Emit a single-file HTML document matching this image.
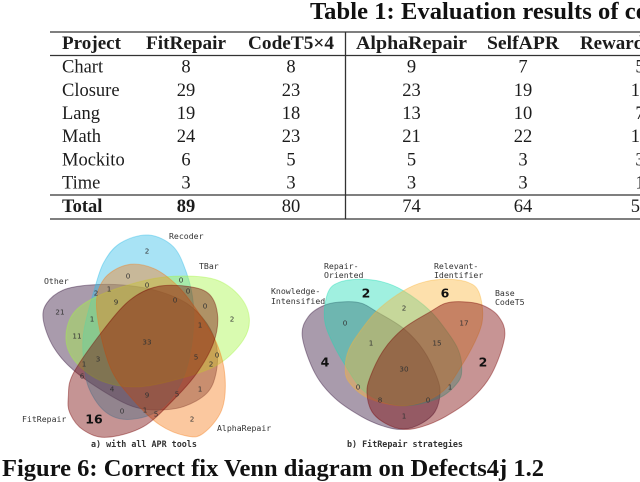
<!DOCTYPE html>
<html lang="en">
<head>
<meta charset="utf-8">
<title>Evaluation results and Venn diagrams</title>
<style>
html,body{margin:0;padding:0;background:#fff;}
body{width:640px;height:482px;overflow:hidden;}
svg{display:block;}
.serif{font-family:"Liberation Serif",serif;fill:#1c1c1c;}
.cell{font-size:18.5px;}
.head{font-size:19px;font-weight:bold;}
.bold{font-weight:bold;}
.big{font-size:24.5px;font-weight:bold;fill:#111;}
.mono{font-family:"DejaVu Sans Mono",monospace;font-size:8.2px;fill:#333;}
.cap{font-family:"DejaVu Sans Mono",monospace;font-size:8.4px;font-weight:bold;fill:#333;}
.num{font-family:"DejaVu Sans",sans-serif;font-size:7.2px;fill:#333;text-anchor:middle;}
.numb{font-family:"DejaVu Sans",sans-serif;font-size:12.5px;font-weight:bold;fill:#111;text-anchor:middle;}
.rule{stroke:#333;stroke-width:1.3;}
</style>
</head>
<body>
<svg id="root" xmlns="http://www.w3.org/2000/svg" width="640" height="482" viewBox="0 0 640 482">
  <text class="serif big" x="310" y="19" textLength="338" lengthAdjust="spacing">Table 1: Evaluation results of co</text>
  <g id="table">
    <line class="rule" x1="50" x2="640" y1="32" y2="32"/>
    <line class="rule" x1="50" x2="640" y1="55.5" y2="55.5"/>
    <line class="rule" x1="50" x2="640" y1="195" y2="195"/>
    <line class="rule" x1="50" x2="640" y1="219" y2="219"/>
    <line class="rule" x1="345.5" x2="345.5" y1="32" y2="219"/>
  </g>
  <g id="vennA"></g>
  <g id="vennB"></g>

  <text class="mono" x="169" y="239">Recoder</text>
  <text class="mono" x="199" y="269">TBar</text>
  <text class="mono" x="44" y="284">Other</text>
  <text class="mono" x="22" y="422">FitRepair</text>
  <text class="mono" x="217" y="431">AlphaRepair</text>
  <text class="cap" x="91" y="447">a) with all APR tools</text>

  <text class="mono" x="324" y="269">Repair-</text>
  <text class="mono" x="324" y="278">Oriented</text>
  <text class="mono" x="271" y="294">Knowledge-</text>
  <text class="mono" x="271" y="304">Intensified</text>
  <text class="mono" x="434" y="269">Relevant-</text>
  <text class="mono" x="434" y="278">Identifier</text>
  <text class="mono" x="495" y="296">Base</text>
  <text class="mono" x="495" y="305">CodeT5</text>
  <text class="cap" x="347" y="447">b) FitRepair strategies</text>

  <text class="serif big" x="2" y="476" textLength="542" lengthAdjust="spacing">Figure 6: Correct fix Venn diagram on Defects4j 1.2</text>
</svg>
<script>
var tableColumns = ["Project", "FitRepair", "CodeT5×4", "AlphaRepair", "SelfAPR", "RewardRepair"];
var tableProjects = ["Chart", "Closure", "Lang", "Math", "Mockito", "Time", "Total"];
var fitRepairFixes = [8, 29, 19, 24, 6, 3, 89];
var codeT5Fixes = [8, 23, 18, 23, 5, 3, 80];
var alphaRepairFixes = [9, 23, 13, 21, 5, 3, 74];
var selfAprFixes = [7, 19, 10, 22, 3, 3, 64];
var rewardRepairFixes = [5, 19, 7, 18, 3, 1, 53];

var toolSetNames = ["Other", "Recoder", "TBar", "AlphaRepair", "FitRepair"];
var toolRegionCounts = [2, 0, 0, 1, 2, 9, 21, 1, 11, 33, 0, 0, 0, 0, 1, 2, 1, 3, 6, 5, 0, 2, 4, 9, 5, 1, 0, 1, 5, 16, 2];
var strategySetNames = ["Knowledge-Intensified", "Repair-Oriented", "Relevant-Identifier", "Base CodeT5"];
var strategyRegionCounts = [2, 0, 1, 4, 6, 2, 17, 15, 2, 30, 0, 8, 0, 1, 1];

var NS = "http://www.w3.org/2000/svg";

function makeText(parent, x, y, str, cls) {
  var t = document.createElementNS(NS, "text");
  t.setAttribute("x", x);
  t.setAttribute("y", y);
  t.setAttribute("class", cls);
  t.textContent = str;
  parent.appendChild(t);
  return t;
}

function drawTable() {
  var g = document.getElementById("table");
  var columnCenters = [0, 186, 291, 411.5, 523, 640];
  var baselines = [72.5, 96, 119, 142, 165.5, 188.5, 212];
  var headerWidths = [59, 80, 86, 111, 72, 120];
  var series = [fitRepairFixes, codeT5Fixes, alphaRepairFixes, selfAprFixes, rewardRepairFixes];
  tableColumns.forEach(function (name, c) {
    var x = c === 0 ? 62 : columnCenters[c] - headerWidths[c] / 2;
    var h = makeText(g, x, 49, name, "serif head");
    h.setAttribute("textLength", headerWidths[c]);
    h.setAttribute("lengthAdjust", "spacingAndGlyphs");
    
    
  });
  tableProjects.forEach(function (project, r) {
    var isTotal = r === tableProjects.length - 1;
    var label = makeText(g, 62, baselines[r], project, isTotal ? "serif cell bold" : "serif cell");
    
    
    series.forEach(function (values, s) {
      var isBest = isTotal && s === 0;
      var v = makeText(g, columnCenters[s + 1], baselines[r], values[r], isBest ? "serif cell bold" : "serif cell");
      v.setAttribute("text-anchor", "middle");
      
      
    });
  });
}

function smoothClosedPath(pts, toX, toY) {
  var n = pts.length;
  var d = "M" + toX(pts[0][0]).toFixed(1) + " " + toY(pts[0][1]).toFixed(1);
  for (var i = 0; i < n; i++) {
    var p0 = pts[(i - 1 + n) % n], p1 = pts[i], p2 = pts[(i + 1) % n], p3 = pts[(i + 2) % n];
    var c1x = p1[0] + (p2[0] - p0[0]) / 6, c1y = p1[1] + (p2[1] - p0[1]) / 6;
    var c2x = p2[0] - (p3[0] - p1[0]) / 6, c2y = p2[1] - (p3[1] - p1[1]) / 6;
    d += "C" + toX(c1x).toFixed(1) + " " + toY(c1y).toFixed(1) + " " +
         toX(c2x).toFixed(1) + " " + toY(c2y).toFixed(1) + " " +
         toX(p2[0]).toFixed(1) + " " + toY(p2[1]).toFixed(1);
  }
  return d + "Z";
}

function drawVenn(groupId, names, counts, outlines, colors, ox, oy, sites, boldIndexes) {
  var g = document.getElementById(groupId);
  var toX = function (v) { return ox + v / 3; };
  var toY = function (v) { return oy + v / 3; };
  names.forEach(function (name, i) {
    var e = document.createElementNS(NS, "path");
    e.setAttribute("d", smoothClosedPath(outlines[i], toX, toY));
    e.setAttribute("fill", "rgba(" + colors[i] + ",.42)");
    e.setAttribute("stroke", "rgba(" + colors[i] + ",.4)");
    e.setAttribute("stroke-width", "1");
    
    
    g.appendChild(e);
  });
  counts.forEach(function (count, i) {
    var site = sites[i];
    var cls = boldIndexes.indexOf(i) >= 0 ? "numb" : "num";
    var dy = cls === "numb" ? 4.6 : 2.6;
    var t = makeText(g, site[0], site[1] + dy, count, cls);
    
    
  });
}

function mirrored(pts) {
  return pts.map(function (p) { return [651 - p[0], p[1]]; }).reverse();
}

drawTable();

drawVenn("vennA", toolSetNames, toolRegionCounts,
  [
    [[10,270],[20,220],[70,180],[150,165],[250,165],[350,182],[440,220],[500,280],[530,350],[528,430],[500,490],[430,530],[350,540],[280,530],[200,490],[100,420],[40,350]],
    [[325,15],[400,50],[440,130],[460,220],[458,320],[435,430],[390,510],[330,555],[250,568],[190,540],[145,470],[130,380],[132,300],[160,190],[190,100],[240,40]],
    [[78,330],[100,250],[180,195],[320,150],[430,138],[530,150],[600,200],[628,265],[610,330],[540,400],[440,440],[300,470],[190,455],[110,400]],
    [[170,240],[190,150],[260,105],[340,115],[410,165],[470,240],[530,340],[555,440],[545,540],[490,610],[440,618],[360,585],[280,510],[210,410]],
    [[85,500],[100,430],[190,300],[270,210],[350,170],[450,170],[510,195],[533,260],[520,340],[470,430],[400,510],[310,590],[200,622],[130,600],[90,550]]
  ],
  ["50,17,57", "48,188,231", "164,245,67", "246,124,26", "117,0,0"],
  40, 230,
  [[147,251],[128,276],[147,285],[109,289],[96,293],[116,302],[60,312],[92,319],[77,336],[147,342],
   [181,280],[188,291],[175,300],[205,306],[200,325],[232,319],[84,364],[98,359],[82,376],[196,357],
   [217,355],[211,364],[112,389],[147,395],[177,394],[200,389],[122,411],[145,410],[156,414],[94,419],[192,419]],
  [29]);

var knowledgeOutline = [[22,200],[40,140],[90,105],[150,95],[200,100],[245,125],[325,175],[385,240],[425,320],[435,370],[420,425],[380,460],[325,478],[270,470],[200,440],[120,385],[60,310]];
var repairOutline = [[88,130],[100,65],[130,38],[190,28],[260,35],[325,62],[405,122],[460,190],[490,240],[500,290],[490,335],[430,385],[320,407],[215,370],[150,285],[100,190]];

drawVenn("vennB", strategySetNames, strategyRegionCounts,
  [knowledgeOutline, repairOutline, mirrored(repairOutline), mirrored(knowledgeOutline)],
  ["50,17,57", "28,219,181", "250,181,57", "121,0,0"],
  295, 270,
  [[366,293],[345,323],[371,343],[325,362],[445,293],[404,308],[464,323],[437,343],[483,362],[404,369],
   [358,387],[380,400],[428,400],[450,387],[404,416]],
  [0,3,4,8]);
</script>
</body>
</html>
